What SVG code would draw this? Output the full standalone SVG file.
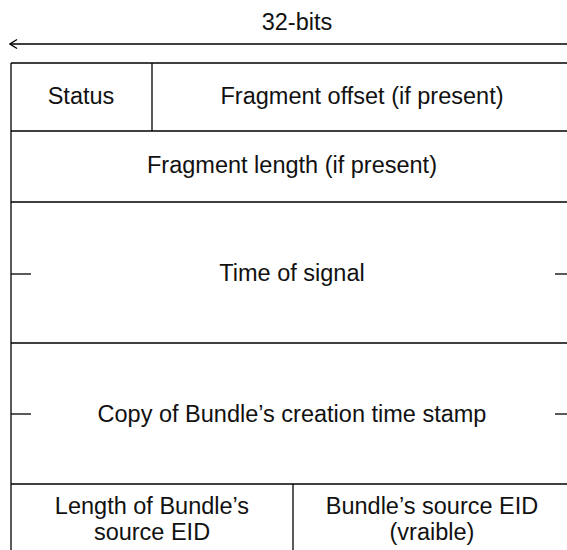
<svg xmlns="http://www.w3.org/2000/svg" width="567" height="550" viewBox="0 0 567 550">
  <style>
    .ln { stroke: #000; stroke-width: 1.3; fill: none; }
    .t { font-family: "Liberation Sans", Arial, sans-serif; font-size: 23.5px; fill: #111; text-anchor: middle; }
  </style>
  <defs>
    <marker id="head" viewBox="0 0 10 12" refX="1" refY="6" markerWidth="10" markerHeight="12" markerUnits="userSpaceOnUse" orient="auto">
      <path d="M8,1.5 L1,6 L8,10.5" fill="none" stroke="#000" stroke-width="1.3"/>
    </marker>
  </defs>
  <rect width="567" height="550" fill="#fff"/>

  <!-- width indicator -->
  <g id="width-label">
    <text class="t" x="297" y="30">32-bits</text>
  </g>
  <g id="connectors">
    <line class="ln" x1="10" y1="44" x2="580" y2="44" marker-start="url(#head)"/>
  </g>

  <!-- outer frame -->
  <g id="frame">
    <line class="ln" x1="11" y1="63" x2="11" y2="550"/>
    <line class="ln" x1="11" y1="63" x2="580" y2="63"/>
  </g>

  <g id="status">
    <line class="ln" x1="152" y1="63" x2="152" y2="131"/>
    <text class="t" x="81" y="104">Status</text>
  </g>
  <g id="fragment-offset">
    <text class="t" x="362" y="104">Fragment offset (if present)</text>
    <line class="ln" x1="11" y1="131" x2="580" y2="131"/>
  </g>
  <g id="fragment-length">
    <text class="t" x="292" y="173">Fragment length (if present)</text>
    <line class="ln" x1="11" y1="202" x2="580" y2="202"/>
  </g>
  <g id="time-of-signal">
    <line class="ln" x1="11" y1="274" x2="31" y2="274"/>
    <line class="ln" x1="555" y1="274" x2="580" y2="274"/>
    <text class="t" x="292" y="281">Time of signal</text>
    <line class="ln" x1="11" y1="343" x2="580" y2="343"/>
  </g>
  <g id="creation-time-stamp">
    <line class="ln" x1="11" y1="414" x2="31" y2="414"/>
    <line class="ln" x1="555" y1="414" x2="580" y2="414"/>
    <text class="t" x="292" y="422">Copy of Bundle’s creation time stamp</text>
    <line class="ln" x1="11" y1="484" x2="580" y2="484"/>
  </g>
  <g id="source-eid-length">
    <line class="ln" x1="293" y1="484" x2="293" y2="550"/>
    <text class="t" x="152" y="514">Length of Bundle’s</text>
    <text class="t" x="152" y="540">source EID</text>
  </g>
  <g id="source-eid">
    <text class="t" x="432" y="514">Bundle’s source EID</text>
    <text class="t" x="432" y="540">(vraible)</text>
  </g>
</svg>
